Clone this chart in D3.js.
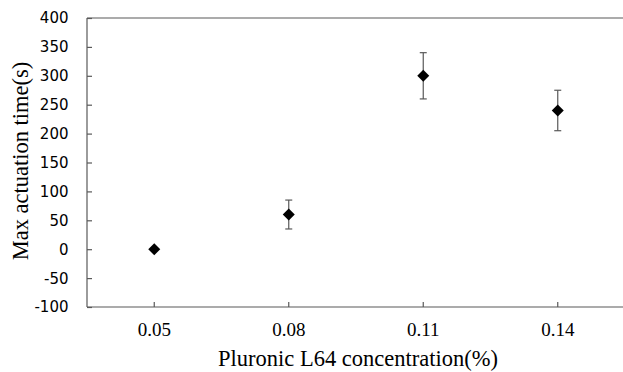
<!DOCTYPE html>
<html><head><meta charset="utf-8">
<script src="https://cdn.jsdelivr.net/npm/d3@7"></script>
<style>body{margin:0;background:#fff}svg{display:block}</style>
</head><body>
<script>
const categories = ["0.05", "0.08", "0.11", "0.14"];
const values = [0, 60, 300, 240];
const errors = [0, 25, 40, 35];
const yTicks = [-100, -50, 0, 50, 100, 150, 200, 250, 300, 350, 400];
const xTitle = "Pluronic L64 concentration(%)";
const yTitle = "Max actuation time(s)";

(function () {
const W = 623, H = 372;
const mLeft = 87, mRight = 625, mTop = 18, mBottom = 307;
const svg = d3.select("body").append("svg").attr("width", W).attr("height", H);

const x = d3.scaleBand().domain(categories).range([mLeft, mRight]);
const y = d3.scaleLinear().domain([-100, 400]).range([mBottom, mTop]);
const axisColor = "#595959";

// top border
svg.append("line").attr("x1", mLeft).attr("x2", mRight).attr("y1", y(400)).attr("y2", y(400))
  .attr("stroke", axisColor).attr("stroke-width", 1.2);

const yAxis = svg.append("g").attr("transform", `translate(${mLeft},0)`)
  .call(d3.axisRight(y).tickValues(yTicks).tickSize(5).tickFormat(""));
yAxis.selectAll("path,line").attr("stroke", axisColor).attr("stroke-width", 1.2);
yAxis.select(".domain").attr("d", `M0,${mTop}V${mBottom}`);

svg.append("g").selectAll("text").data(yTicks).join("text")
  .attr("x", 68.5).attr("y", d => y(d)).attr("dy", "0.36em")
  .attr("text-anchor", "end").attr("font-family", "DejaVu Sans").attr("font-size", 15)
  .attr("fill", "#000").text(d => d);

const xAxis = svg.append("g").attr("transform", `translate(0,${mBottom})`)
  .call(d3.axisTop(x).tickSize(5).tickFormat(""));
xAxis.selectAll("path,line").attr("stroke", axisColor).attr("stroke-width", 1.2);
xAxis.select(".domain").attr("d", `M${mLeft},0H${mRight}`);

svg.append("g").selectAll("text").data(categories).join("text")
  .attr("x", d => x(d) + x.bandwidth() / 2).attr("y", 336)
  .attr("text-anchor", "middle").attr("font-family", "Liberation Serif").attr("font-size", 19)
  .attr("fill", "#000").text(d => d);

svg.append("text").attr("x", 358).attr("y", 366).attr("text-anchor", "middle")
  .attr("font-family", "Liberation Serif").attr("font-size", 22.5).attr("fill", "#000").text(xTitle);

svg.append("text").attr("transform", `translate(27.5,161) rotate(-90)`).attr("text-anchor", "middle")
  .attr("font-family", "Liberation Serif").attr("font-size", 22.5).attr("fill", "#000").text(yTitle);

const cx = d => x(d) + x.bandwidth() / 2;
const eb = svg.append("g").attr("stroke", axisColor).attr("stroke-width", 1.2);
categories.forEach((c, i) => {
  if (!errors[i]) return;
  const hi = y(values[i] + errors[i]), lo = y(values[i] - errors[i]), xc = cx(c);
  eb.append("line").attr("x1", xc).attr("x2", xc).attr("y1", hi).attr("y2", lo);
  eb.append("line").attr("x1", xc - 3.5).attr("x2", xc + 3.5).attr("y1", hi).attr("y2", hi);
  eb.append("line").attr("x1", xc - 3.5).attr("x2", xc + 3.5).attr("y1", lo).attr("y2", lo);
});

const diamond = d3.symbol().type(d3.symbolSquare).size(72);
svg.append("g").selectAll("path").data(categories).join("path")
  .attr("d", diamond)
  .attr("transform", (d, i) => `translate(${cx(d)},${y(values[i])}) rotate(45)`)
  .attr("fill", "#000");
})();
</script>
</body></html>
